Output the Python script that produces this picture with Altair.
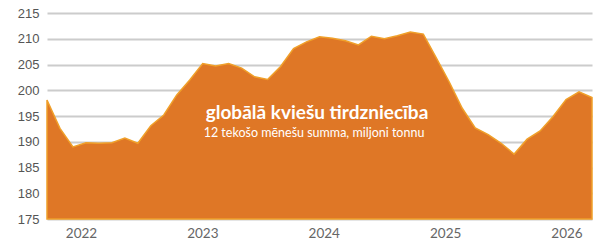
import altair as alt
import pandas as pd
import numpy as np

# 12-month rolling sum of global wheat trade, million tonnes
values = [198.1, 192.6, 189.0, 189.8, 189.7, 189.8, 190.7, 189.7, 193.1, 195.2,
          199.1, 202.0, 205.2, 204.7, 205.2, 204.3, 202.6, 202.1, 204.6, 208.1,
          209.4, 210.4, 210.1, 209.6, 208.8, 210.5, 210.0, 210.6, 211.3, 210.9,
          206.3, 201.6, 196.5, 192.7, 191.4, 189.7, 187.6, 190.5, 192.1, 194.9,
          198.2, 199.7, 198.6]
start_year = 2021.72
end_year = 2026.21
year_ticks = [2022, 2023, 2024, 2025, 2026]
y_ticks = [175, 180, 185, 190, 195, 200, 205, 210, 215]
title_text = "globālā kviešu tirdzniecība"
subtitle_text = "12 tekošo mēnešu summa, miljoni tonnu"

df = pd.DataFrame({
    "t": np.linspace(start_year, end_year, len(values)),
    "v": values,
})

area = alt.Chart(df).mark_area(
    color="#DF7726", stroke="#F0A02A", strokeWidth=1.5, opacity=1
).encode(
    x=alt.X("t:Q", scale=alt.Scale(domain=[start_year, end_year], nice=False, zero=False),
            axis=alt.Axis(values=year_ticks, format="d", grid=False, ticks=False,
                          domain=False, labelPadding=7, labelFontSize=13.5,
                          labelColor="#666666", labelFont="Lato",
                          labelFontWeight="normal", title=None)),
    y=alt.Y("v:Q", scale=alt.Scale(domain=[175, 215], nice=False, zero=False),
            axis=alt.Axis(values=y_ticks, grid=True, gridColor="#CCCCCC", gridWidth=2,
                          ticks=False, domain=False, labelPadding=8, labelFontSize=13,
                          labelColor="#555555", labelFont="Liberation Sans", title=None)),
    y2=alt.datum(175),
)

title = alt.Chart(pd.DataFrame({"s": [title_text]})).mark_text(
    font="Lato", fontSize=19, fontWeight="bold", color="white", align="center",
    baseline="middle"
).encode(text="s:N", x=alt.value(270), y=alt.value(100))

subtitle = alt.Chart(pd.DataFrame({"s": [subtitle_text]})).mark_text(
    font="Lato", fontSize=12.5, color="white", align="center", baseline="middle"
).encode(text="s:N", x=alt.value(267), y=alt.value(120))

chart = alt.layer(area, title, subtitle).properties(
    width=545, height=206,
    autosize=alt.AutoSizeParams(type="none"),
    padding={"left": 47, "top": 13, "right": 14, "bottom": 27},
).configure_view(stroke=None)

chart.save("out.html", embed_options={"renderer": "svg", "actions": False})
